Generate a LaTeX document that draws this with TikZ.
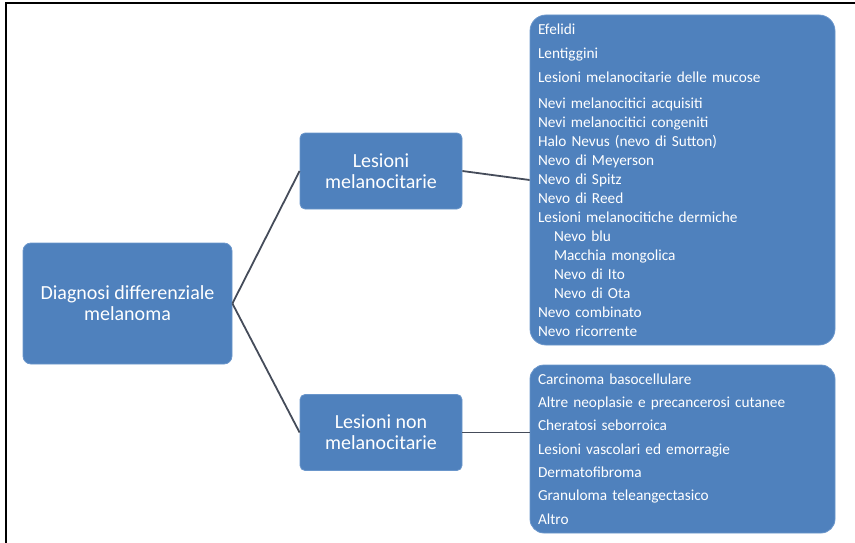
\documentclass[tikz,border=0pt]{standalone}
\usepackage{fontspec}
\setmainfont{Carlito}
\usetikzlibrary{positioning,calc}
\definecolor{boxblue}{HTML}{4F81BD}
\definecolor{boxedge}{HTML}{6A96CB}
\definecolor{linkgrey}{HTML}{454C5A}
\tikzset{
    % riquadro principale e categorie
    catbox/.style={draw=boxedge, fill=boxblue, text=white, align=center,
                   rounded corners=5pt, line width=0.8pt,
                   font=\fontsize{20}{21}\selectfont},
    % riquadro degli elenchi
    listbox/.style={draw=boxedge, fill=boxblue, text=white, align=left,
                    rounded corners=16pt, line width=0.8pt,
                    minimum width=305pt, text width=289pt, inner xsep=8pt,
                    font=\fontsize{15.3}{19}\selectfont},
    link/.style={draw=linkgrey, line width=1.8pt}
}

\begin{document}
\begin{tikzpicture}[x=1pt, y=-1pt]
  \useasboundingbox (0,0) rectangle (855,543);
  % cornice
  \draw[line width=2pt] (6,543) -- (6,3.5) -- (855,3.5);

  % Nodi
  \node[catbox, minimum width=209pt, minimum height=121pt, rounded corners=8pt]
    (diag) at (127.5,303.5) {Diagnosi differenziale\\melanoma};
  \node[catbox, minimum width=162pt, minimum height=76pt] (lm) at (381,171)
    {Lesioni\\melanocitarie};
  \node[catbox, minimum width=162pt, minimum height=76pt] (lnm) at (381,432.5)
    {Lesioni non\\melanocitarie};

  \node[listbox, minimum height=330pt] (elenco1) at (682.5,180) {%
    Efelidi\\[5pt]
    Lentiggini\\[5pt]
    Lesioni melanocitarie delle mucose\\[7pt]
    Nevi melanocitici acquisiti\\
    Nevi melanocitici congeniti\\
    Halo Nevus (nevo di Sutton)\\
    Nevo di Meyerson\\
    Nevo di Spitz\\
    Nevo di Reed\\
    Lesioni melanocitiche dermiche\\
    \hspace*{16pt}Nevo blu\\
    \hspace*{16pt}Macchia mongolica\\
    \hspace*{16pt}Nevo di Ito\\
    \hspace*{16pt}Nevo di Ota\\
    Nevo combinato\\
    Nevo ricorrente};
  \node[listbox, minimum height=168pt, rounded corners=14pt] (elenco2) at (682.5,449) {%
    Carcinoma basocellulare\\[4.3pt]
    Altre neoplasie e precancerosi cutanee\\[4.3pt]
    Cheratosi seborroica\\[4.3pt]
    Lesioni vascolari ed emorragie\\[4.3pt]
    Dermatofibroma\\[4.3pt]
    Granuloma teleangectasico\\[4.3pt]
    Altro};

  \draw[link] (diag.east) -- (lm.west);
  \draw[link] (diag.east) -- (lnm.west);
  \draw[link] (lm.east) -- (elenco1.west);
  \draw[link] (lnm.east) -- (lnm.east -| elenco2.west);
\end{tikzpicture}
\end{document}
